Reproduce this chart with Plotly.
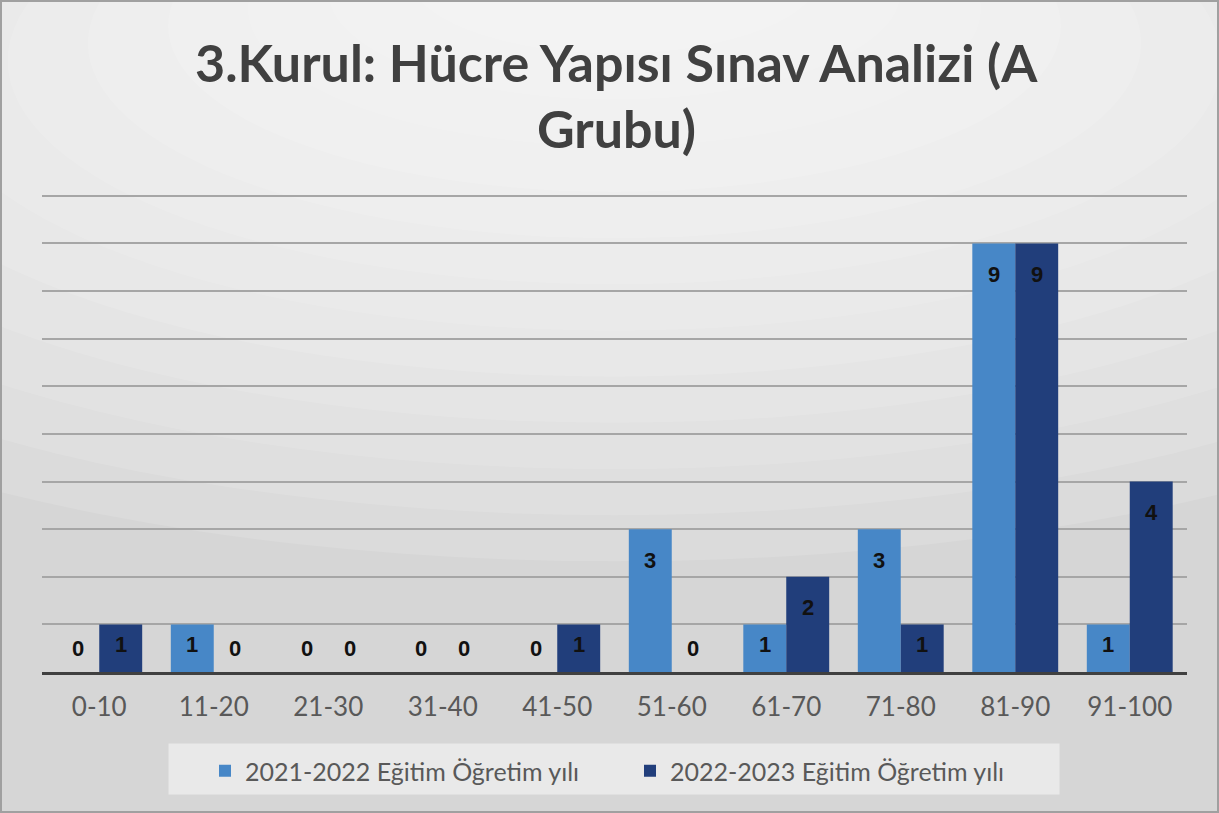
import plotly.graph_objects as go

categories = ["0-10", "11-20", "21-30", "31-40", "41-50", "51-60", "61-70", "71-80", "81-90", "91-100"]
series_2021 = [0, 1, 0, 0, 0, 3, 1, 3, 9, 1]
series_2022 = [1, 0, 0, 0, 1, 0, 2, 1, 9, 4]
name_2021 = "2021-2022 Eğitim Öğretim yılı"
name_2022 = "2022-2023 Eğitim Öğretim yılı"
title_line1 = "3.Kurul: Hücre Yapısı Sınav Analizi (A"
title_line2 = "Grubu)"

c_light = "#4787c7"
c_dark = "#213e7b"

W, H = 1219, 813
L, R, T, B = 42, 32, 191, 141
PW, PH = W - L - R, H - T - B

def px(x):
    return (x - L) / PW

def py(y):
    return (H - B - y) / PH

fig = go.Figure()
fig.add_trace(go.Bar(x=categories, y=series_2021, name=name_2021, marker=dict(color=c_light, line=dict(width=0))))
fig.add_trace(go.Bar(x=categories, y=series_2022, name=name_2022, marker=dict(color=c_dark, line=dict(width=0))))

# background radial-ish gradient via stacked translucent ellipses
shapes = []
for i in range(12):
    rx = 0.95 - i * 0.07
    ry = 1.1 - i * 0.08
    shapes.append(dict(type="circle", xref="paper", yref="paper", layer="below",
                       x0=0.5 - rx, x1=0.5 + rx, y0=1.55 - ry * 1.2, y1=1.55 + ry * 0.3,
                       fillcolor="rgba(255,255,255,0.12)", line=dict(width=0)))
# legend panel
shapes.append(dict(type="rect", xref="paper", yref="paper", layer="below",
                   x0=px(168), x1=px(1060), y0=py(795), y1=py(743),
                   fillcolor="rgba(234,234,234,0.95)", line=dict(color="#d6d6d6", width=1)))
# outer border
shapes.append(dict(type="rect", xref="paper", yref="paper", x0=px(1), x1=px(W - 1),
                   y0=py(H - 1), y1=py(1), line=dict(color="#a0a0a0", width=2)))

labels_font = dict(family="Liberation Sans, Arial", size=22, color="#111111")
annotations = []
for vals, shift in ((series_2021, -21.5), (series_2022, 21.5)):
    for cat, v in zip(categories, vals):
        if v == 0:
            ys = 24
        elif v == 1:
            ys = -20
        else:
            ys = -31
        annotations.append(dict(x=cat, y=v, xref="x", yref="y", text=f"<b>{v}</b>", showarrow=False,
                                xshift=shift, yshift=ys, yanchor="middle", font=labels_font))

title_font = dict(family="Lato, Open Sans", size=52, color="#404040", weight="bold")
annotations.append(dict(xref="paper", yref="paper", x=px(616), y=py(62),
                        text=title_line1, showarrow=False, xanchor="center", yanchor="middle", font=title_font))
annotations.append(dict(xref="paper", yref="paper", x=px(616), y=py(128),
                        text=title_line2, showarrow=False, xanchor="center", yanchor="middle", font=title_font))

fig.update_layout(
    width=W, height=H,
    margin=dict(l=L, r=R, t=T, b=B, autoexpand=False),
    paper_bgcolor="#d6d6d6",
    plot_bgcolor="rgba(0,0,0,0)",
    barmode="group", bargap=0.25, bargroupgap=0.0,
    xaxis=dict(showgrid=False, showline=True, linecolor="#404040", linewidth=3,
               tickfont=dict(family="Lato, Open Sans", size=26, color="#595959"), ticks="",
               ticklabelstandoff=10),
    yaxis=dict(range=[0, 10.1], dtick=1, showgrid=True, gridcolor="#a6a6a6", gridwidth=2,
               showticklabels=False, zeroline=False, showline=False),
    legend=dict(orientation="h", x=px(205), xanchor="left", y=py(748), yanchor="top",
                bgcolor="rgba(0,0,0,0)", borderwidth=0,
                font=dict(family="Lato, Open Sans", size=25, color="#595959"),
                itemwidth=30, entrywidth=380, tracegroupgap=0),
    shapes=shapes,
    annotations=annotations,
    showlegend=True,
)

fig.write_html("out.html", config={"displayModeBar": False},
               post_script="document.body.style.margin='0px';document.body.style.overflow='hidden';")
